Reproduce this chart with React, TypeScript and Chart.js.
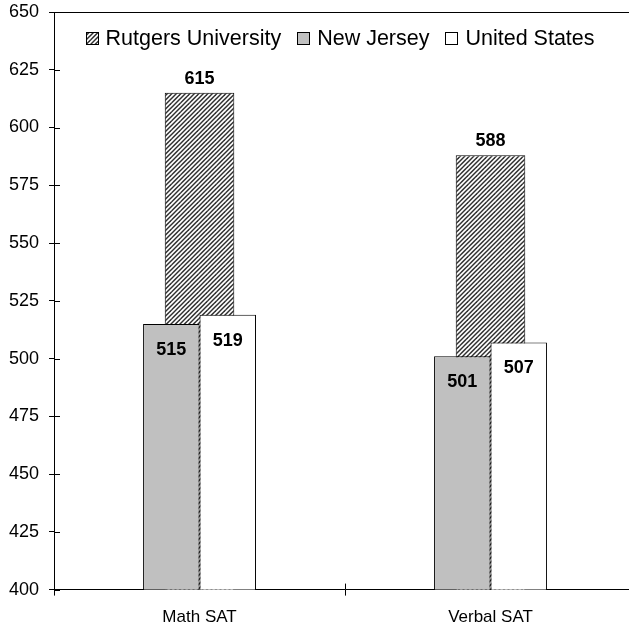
import React, { useEffect, useRef } from "react";
import { Chart, registerables } from "chart.js";

Chart.register(...registerables);

const categories = ["Math SAT", "Verbal SAT"];
const seriesNames = ["Rutgers University", "New Jersey", "United States"];
const rutgers = [615, 588];
const newJersey = [515, 501];
const unitedStates = [519, 507];
const yMin = 400;
const yMax = 650;
const yStep = 25;

const FONT = "'Liberation Sans', Arial, Helvetica, sans-serif";
const GRAY = "#c0c0c0";

function makeHatch(): CanvasPattern | string {
  const size = 9;
  const c = document.createElement("canvas");
  c.width = size;
  c.height = size;
  const g = c.getContext("2d");
  if (!g) return "#888";
  g.fillStyle = "#ffffff";
  g.fillRect(0, 0, size, size);
  g.strokeStyle = "#303030";
  g.lineWidth = 1.5;
  for (let k = 0; k <= 4; k++) {
    const cc = k * 4.5;
    g.beginPath();
    g.moveTo(cc + 3, -3);
    g.lineTo(-3, cc + 3);
    g.stroke();
  }
  const p = g.createPattern(c, "repeat");
  return p || "#888";
}

const decorPlugin = {
  id: "decor",
  afterDatasetsDraw(chart: any) {
    const { ctx } = chart;
    ctx.save();
    ctx.fillStyle = "#000";
    ctx.font = `bold 18px ${FONT}`;
    ctx.textAlign = "center";
    ctx.textBaseline = "middle";
    chart.data.datasets.forEach((ds: any, di: number) => {
      const meta = chart.getDatasetMeta(di);
      meta.data.forEach((el: any, i: number) => {
        const v = ds.data[i];
        const y = di === 0 ? el.y - 14 : el.y + 26;
        ctx.fillText(String(v), el.x, y);
      });
    });
    ctx.restore();
  },
  afterDraw(chart: any) {
    const { ctx, chartArea: a, scales } = chart;
    ctx.save();
    ctx.strokeStyle = "#000";
    ctx.lineWidth = 1;
    // top border
    const ty = Math.round(a.top) + 0.5;
    ctx.beginPath();
    ctx.moveTo(a.left, ty);
    ctx.lineTo(a.right, ty);
    ctx.stroke();
    // inner halves of y ticks
    const lx = Math.round(a.left);
    scales.y.ticks.forEach((t: any) => {
      const y = Math.round(scales.y.getPixelForValue(t.value)) + 0.5;
      ctx.beginPath();
      ctx.moveTo(lx, y);
      ctx.lineTo(lx + 6, y);
      ctx.stroke();
    });
    // inner halves of x ticks between categories
    for (let i = 1; i < categories.length; i++) {
      const x =
        Math.round((scales.x.getPixelForValue(i - 1) + scales.x.getPixelForValue(i)) / 2) + 0.5;
      ctx.beginPath();
      ctx.moveTo(x, a.bottom);
      ctx.lineTo(x, a.bottom - 6);
      ctx.stroke();
    }
    // legend
    const fills = chart.data.datasets.map((d: any) => d.backgroundColor);
    ctx.font = `21.5px ${FONT}`;
    ctx.textBaseline = "middle";
    ctx.textAlign = "left";
    const box = 13;
    const gap = 7;
    const spacer = 16;
    const widths = seriesNames.map((n) => ctx.measureText(n).width);
    const total =
      widths.reduce((s, w) => s + w, 0) + seriesNames.length * (box + gap) + (seriesNames.length - 1) * spacer;
    let x = (a.left + a.right) / 2 - 5 - total / 2;
    const boxTop = Math.round(a.top + 20);
    const textY = a.top + 27;
    seriesNames.forEach((n, i) => {
      const bx = Math.round(x);
      ctx.fillStyle = fills[i];
      ctx.fillRect(bx, boxTop, box, box);
      ctx.strokeStyle = "#000";
      ctx.strokeRect(bx + 0.5, boxTop + 0.5, box - 1, box - 1);
      ctx.fillStyle = "#000";
      ctx.fillText(n, x + box + gap, textY);
      x += box + gap + widths[i] + spacer;
    });
    ctx.restore();
  },
};

export default function App() {
  const ref = useRef<HTMLCanvasElement | null>(null);

  useEffect(() => {
    if (!ref.current) return;
    Chart.defaults.font.family = FONT;
    const hatch = makeHatch();
    const chart = new Chart(ref.current, {
      type: "bar",
      data: {
        labels: categories,
        datasets: [
          {
            label: seriesNames[0],
            data: rutgers,
            backgroundColor: hatch as any,
            borderColor: "#000",
            borderWidth: 1,
            grouped: false,
            barPercentage: 0.239,
            categoryPercentage: 1,
            order: 2,
          },
          {
            label: seriesNames[1],
            data: newJersey,
            backgroundColor: GRAY,
            borderColor: "#000",
            borderWidth: 1,
            barPercentage: 1,
            categoryPercentage: 0.388,
            order: 1,
          },
          {
            label: seriesNames[2],
            data: unitedStates,
            backgroundColor: "#ffffff",
            borderColor: "#000",
            borderWidth: 1,
            barPercentage: 1,
            categoryPercentage: 0.388,
            order: 1,
          },
        ],
      },
      options: {
        responsive: false,
        animation: false,
        devicePixelRatio: 1,
        layout: { autoPadding: false, padding: { left: -1, top: 12, right: 0, bottom: -15 } },
        plugins: {
          legend: { display: false },
          tooltip: { enabled: false },
        },
        scales: {
          x: {
            grid: {
              display: true,
              drawOnChartArea: false,
              drawTicks: true,
              tickLength: 6,
              color: "#000",
              offset: true,
            },
            border: { display: true, color: "#000", width: 1 },
            ticks: { font: { family: FONT, size: 17 }, color: "#000", padding: 12 },
          },
          y: {
            min: yMin,
            max: yMax,
            grid: {
              display: true,
              drawOnChartArea: false,
              drawTicks: true,
              tickLength: 5,
              color: "#000",
            },
            border: { display: true, color: "#000", width: 1 },
            ticks: {
              stepSize: yStep,
              font: { family: FONT, size: 18, lineHeight: 0.2 },
              color: "#000",
              padding: 10,
            },
          },
        },
      },
      plugins: [decorPlugin],
    });
    return () => chart.destroy();
  }, []);

  return (
    <div
      style={{
        position: "fixed",
        left: 0,
        top: 0,
        width: 629,
        height: 625,
        overflow: "hidden",
        background: "#fff",
      }}
    >
      <canvas ref={ref} width={636} height={625} style={{ width: 636, height: 625, display: "block" }} />
    </div>
  );
}
